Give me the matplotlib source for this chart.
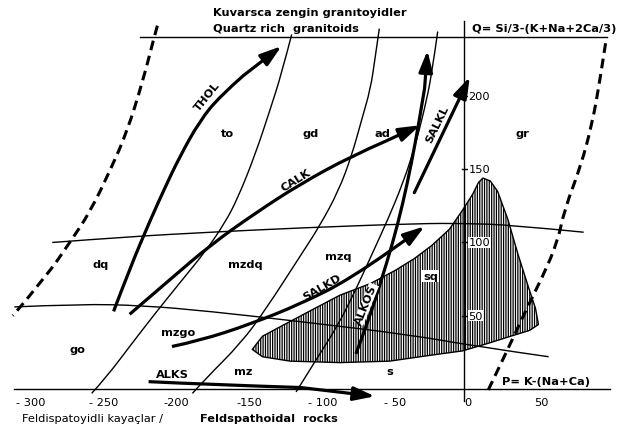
import matplotlib
matplotlib.use("Agg")
import matplotlib.pyplot as plt
from matplotlib.patches import Polygon, PathPatch
from matplotlib.path import Path

plt.rcParams['font.family'] = ['DejaVu Sans']
plt.rcParams['hatch.linewidth'] = 0.9

# ---- P–Q diagram data (P = K-(Na+Ca), Q = Si/3-(K+Na+2Ca/3)) ----
# dashed outer limits of the diagram
left_limit_P = [-210, -212, -220, -231, -242, -256, -270, -286, -309]
left_limit_Q = [248, 241, 210, 175, 150, 121, 100, 77, 50]
right_limit_P = [97, 93, 88, 80, 69, 64, 54, 43, 30, 16]
right_limit_Q = [236, 210, 182, 152, 123, 100, 77, 55, 27, -2]

# field boundaries (rows)
upper_row_P = [-282, -229, -174, -112, -30, 0, 32, 82]
upper_row_Q = [100, 104, 107, 110, 113, 113, 112, 107]
lower_row_P = [-308, -263, -220, -174, -112, -37, 9, 58]
lower_row_Q = [56, 58, 57, 53, 46, 37, 29, 22]

# field boundaries (columns)
col1_P = [-255, -245, -229, -212, -195, -177, -164, -155, -143, -133, -125, -118]
col1_Q = [-3, 8, 29, 51, 72, 94, 113, 130, 160, 190, 215, 242]
col2_P = [-186, -177, -153, -136, -112, -99, -86, -77, -70, -64, -61, -58]
col2_Q = [-3, 7, 31, 54, 91, 111, 135, 159, 184, 205, 225, 246]
col3_P = [-115, -100, -86, -74, -63, -52, -42, -34, -27, -22, -18]
col3_Q = [-2, 22, 44, 68, 92, 116, 140, 164, 191, 215, 244]

# magmatic association trends
thol_P = [-240, -229, -215, -205, -195, -181, -167, -151, -125]
thol_Q = [53, 82, 115, 137, 158, 183, 200, 214, 234]
calk_P = [-229, -201, -174, -143, -112, -77, -54, -30]
calk_Q = [51, 75, 98, 120, 140, 159, 169, 180]
salkd_P = [-200, -181, -147, -112, -78, -51, -27]
salkd_Q = [29, 33, 44, 58, 75, 94, 111]
salkl_P = [-34, 4]
salkl_Q = [134, 213]
alkos_P = [-74, -65, -57, -49, -42, -36, -31, -27, -25]
alkos_Q = [24, 48, 73, 99, 126, 154, 181, 205, 231]
alks_P = [-216, -174, -112, -61]
alks_Q = [5, 3, 1, -5]

# sample field (hatched)
field_P = [-145, -138, -123, -106, -85, -64, -47, -34, -22, -10, -1, 6, 10, 13,
           18, 23, 30, 37, 44, 49, 51, 45, 32, 16, -1, -23, -51, -85, -119, -138]
field_Q = [27, 36, 44, 53, 64, 72, 81, 89, 98, 109, 122, 133, 141, 144,
           142, 135, 116, 92, 70, 55, 44, 40, 36, 31, 26, 23, 19, 18, 19, 22]

x_ticks = [-300, -250, -200, -150, -100, -50, 0, 50]
x_tick_text = ["- 300", "- 250", "-200", "-150", "- 100", "- 50", "0", "50"]
y_ticks = [50, 100, 150, 200]

field_names = ["to", "gd", "ad", "gr", "dq", "mzdq", "mzq", "sq",
               "go", "mzgo", "mz", "s"]
field_name_P = [-162, -105, -56, 40, -249, -150, -86, -23, -265, -196, -151, -51]
field_name_Q = [175, 175, 175, 175, 85, 85, 91, 77, 27, 39, 12, 12]

fig = plt.figure(figsize=(6.25, 4.31), dpi=100)
ax = fig.add_axes([0, 0, 1, 1])
ax.set_xlim(-317.8, 110.3)
ax.set_ylim(-28.0, 266.2)
ax.axis('off')

K = 'black'
thin = 1.0
thick = 2.3


def smooth_path(P, Q):
    """Quadratic Bezier path through the end points, using inner points as controls."""
    pts = list(zip(P, Q))
    if len(pts) < 3:
        return Path(pts, [Path.MOVETO, Path.LINETO])
    verts = [pts[0]]
    codes = [Path.MOVETO]
    for i in range(1, len(pts) - 1):
        end = pts[i + 1] if i == len(pts) - 2 else (
            (pts[i][0] + pts[i + 1][0]) / 2, (pts[i][1] + pts[i + 1][1]) / 2)
        verts += [pts[i], end]
        codes += [Path.CURVE3, Path.CURVE3]
    return Path(verts, codes)


def curve(P, Q, lw=thin, ls='-', z=2):
    ax.add_patch(PathPatch(smooth_path(P, Q), fill=False, edgecolor=K, lw=lw,
                           ls=ls, zorder=z, joinstyle='round', capstyle='butt'))


# axes of the diagram
ax.plot([-308, 100], [0, 0], color=K, lw=thin)
ax.plot([0, 0], [-8, 251], color=K, lw=thin)
ax.plot([-222, 98], [240, 240], color=K, lw=thin)

# hatched field
poly = Polygon(list(zip(field_P, field_Q)), closed=True, facecolor='white',
               edgecolor=K, hatch='|||||||', lw=1.0, zorder=1,
               joinstyle='round')
ax.add_patch(poly)

# dashed limits
dash = (0, (3.2, 1.9))
curve(left_limit_P, left_limit_Q, lw=2.2, ls=dash)
curve(right_limit_P, right_limit_Q, lw=2.2, ls=dash)

# field boundaries
for P, Q in [(upper_row_P, upper_row_Q), (lower_row_P, lower_row_Q),
             (col1_P, col1_Q), (col2_P, col2_Q), (col3_P, col3_Q)]:
    curve(P, Q)


def trend(P, Q, lw=thick, hl=0.8, hw=0.26):
    if len(P) > 2:
        curve(P[:-1], Q[:-1], lw=lw, z=3)
    ax.annotate('', xy=(P[-1], Q[-1]), xytext=(P[-2], Q[-2]),
                arrowprops=dict(arrowstyle=f'-|>,head_length={hl},head_width={hw}',
                                lw=lw, color=K, shrinkA=0, shrinkB=0,
                                mutation_scale=16), zorder=3)


trend(thol_P, thol_Q)
trend(calk_P, calk_Q)
trend(salkd_P, salkd_Q)
trend(salkl_P, salkl_Q)
trend(alkos_P, alkos_Q)
trend(alks_P, alks_Q)

fs = 8.2
bold = dict(fontsize=fs, fontweight='bold', color=K, ha='center', va='center')

for name, p, q in zip(field_names, field_name_P, field_name_Q):
    kw = dict(bold)
    if name == 'sq':
        kw['bbox'] = dict(facecolor='white', edgecolor='none', pad=0.5)
    ax.text(p, q, name, zorder=4, **kw)

# trend labels
ax.text(-176, 200, "THOL", rotation=51, zorder=4, **bold)
ax.text(-115, 143, "CALK", rotation=32, zorder=4, **bold)
ax.text(-97, 70, "SALKD", rotation=30, zorder=4, **bold)
ax.text(-18.5, 181, "SALKL", rotation=64, zorder=4, **bold)
ax.text(-67, 58, "ALKOS", rotation=68, zorder=4,
        bbox=dict(facecolor='white', edgecolor='none', pad=0.2), **bold)
ax.text(-200, 10, "ALKS", zorder=4, **bold)

# ticks and tick labels
for v, t in zip(x_ticks, x_tick_text):
    ax.text(v + 3, -9, t, fontsize=fs, color=K, ha='center', va='center')
for v in y_ticks:
    ax.plot([-1.5, 2.5], [v, v], color=K, lw=thin, zorder=4)
    ax.text(3, v, str(v), fontsize=fs, color=K, ha='left', va='center', zorder=4,
            bbox=dict(facecolor='white', edgecolor='none', pad=0.3))

# axis titles
ax.text(5.5, 246.5, "Q= Si/3-(K+Na+2Ca/3)", fontsize=fs, fontweight='bold',
        ha='left', va='center')
ax.text(26, 5.5, "P= K-(Na+Ca)", fontsize=fs, fontweight='bold',
        ha='left', va='center')
ax.text(-172, 257.5, "Kuvarsca zengin granıtoyidler", fontsize=fs,
        fontweight='bold', ha='left', va='center')
ax.text(-172, 246.5, "Quartz rich  granitoids", fontsize=fs,
        fontweight='bold', ha='left', va='center')
ax.text(-303, -20, "Feldispatoyidli kayaçlar /", fontsize=fs,
        ha='left', va='center')
ax.text(-181, -20, "Feldspathoidal  rocks", fontsize=fs, fontweight='bold',
        ha='left', va='center')

fig.savefig("out.png", dpi=100)
